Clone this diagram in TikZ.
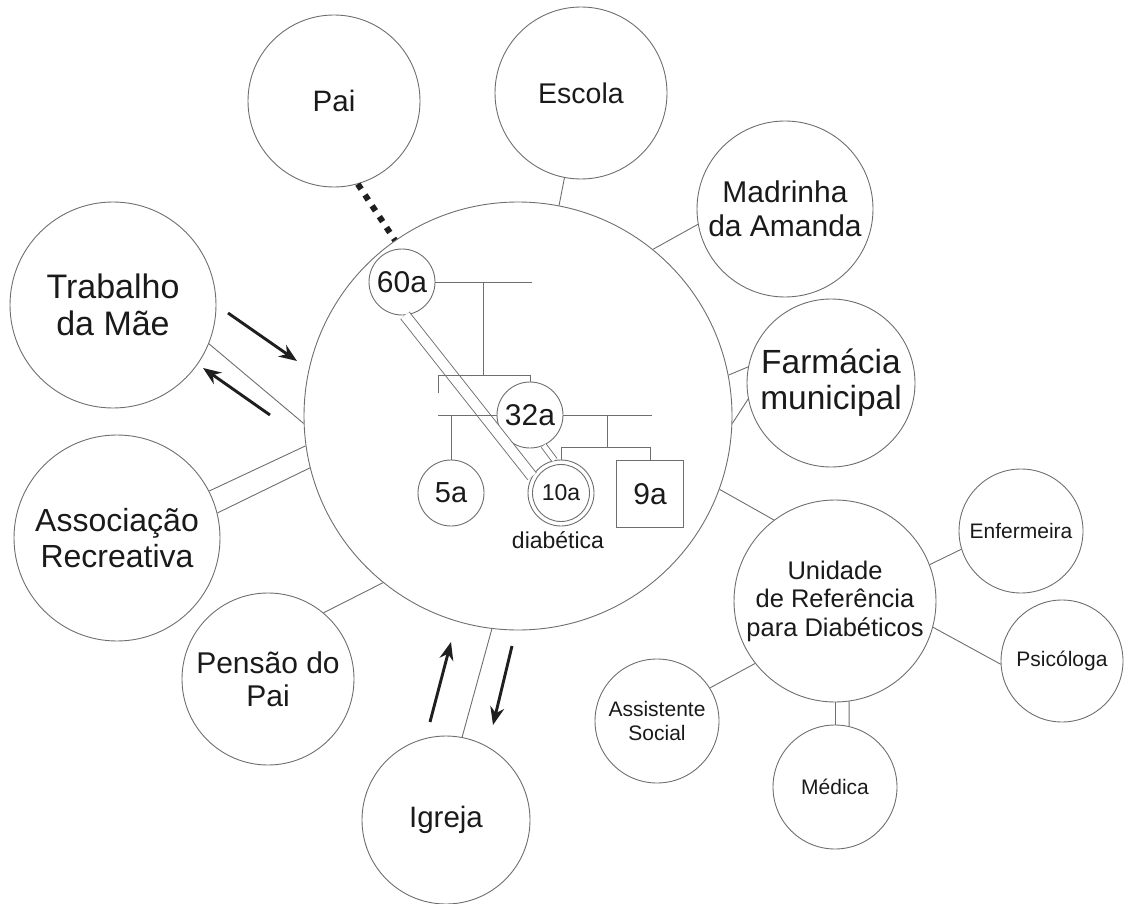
\documentclass[tikz,border=0pt]{standalone}
\usepackage{fontspec}
\setmainfont{Liberation Sans}
\usetikzlibrary{arrows.meta}
\definecolor{linec}{HTML}{6E6E6E}
\definecolor{txt}{HTML}{1A1A1A}
\newcommand{\fsz}[2]{\fontsize{#1}{#2}\selectfont}
\begin{document}
\begin{tikzpicture}[x=1pt,y=-1pt,
  bub/.style={circle, draw=linec, line width=0.9pt, inner sep=0pt, text=txt, align=center},
  conn/.style={draw=linec, line width=0.9pt},
  dbl/.style={draw=linec, line width=0.9pt, double=white},
  arr/.style={line width=2.9pt, draw=black!88, -{Stealth[length=18pt,width=14pt]}},
  gen/.style={draw=linec, line width=0.9pt},
  dots/.style={line width=6pt, draw=black!88, dash pattern=on 6pt off 7pt},
]
\useasboundingbox (0,0) rectangle (1127,904);

% main circle and outer bubbles
\node[bub, minimum size=428pt] (big) at (518,416) {};
\node[bub, minimum size=172pt, font=\fsz{29.5}{33}] (pai) at (334,101) {Pai};
\node[bub, minimum size=172pt, font=\fsz{28.5}{30}] (esc) at (581,93) {Escola};
\node[bub, minimum size=176pt, font=\fsz{30}{34}] (mad) at (785,209) {Madrinha\\da Amanda};
\node[bub, minimum size=168pt, font=\fsz{33.5}{36}] (far) at (831,383) {Farmácia\\municipal};
\node[bub, minimum size=206pt, font=\fsz{34}{37}] (tra) at (113,305) {Trabalho\\da Mãe};
\node[bub, minimum size=206pt, font=\fsz{32}{36}] (ass) at (117,538) {Associação\\Recreativa};
\node[bub, minimum size=172pt, font=\fsz{30}{33}] (pen) at (268,679) {Pensão do\\Pai};
\node[bub, minimum size=168pt, font=\fsz{29.5}{33}] (igr) at (446,820) {Igreja};
\node[bub, minimum size=202pt, font=\fsz{25.5}{28.5}] (uni) at (835,601) {Unidade\\de Referência\\para Diabéticos};
\node[bub, minimum size=124pt, font=\fsz{21}{24}] (enf) at (1021,531) {Enfermeira};
\node[bub, minimum size=122pt, font=\fsz{21}{24}] (psi) at (1062,661) {Psicóloga};
\node[bub, minimum size=124pt, font=\fsz{21}{24}] (asi) at (657,721) {Assistente\\Social};
\node[bub, minimum size=124pt, font=\fsz{21}{24}] (med) at (835,787) {Médica};

% connectors
\draw[dots] (pai.286) -- (big.125);
\draw[conn] (esc) -- (big);
\draw[conn] (mad.190) -- (big.51);
\draw[conn] (far.169) -- (big.11);
\draw[conn] (far.191) -- (big.-2);
\draw[conn] (uni.127) -- (big.-20);
\draw[conn] (uni.21) -- (enf.197);
\draw[conn] (uni.-15) -- (psi.183);
\draw[conn] (uni.218) -- (asi.32);
\draw[conn] (uni.-90) -- (med.90);
\draw[conn] (uni.-82) -- (med.77);
\draw[conn] (igr.79) -- (big.263);
\draw[conn] (pen.50) -- (big.231);
\draw[conn] (ass.27) -- (big.188);
\draw[conn] (ass.14) -- (big.194);
\draw[conn] (tra.-22) -- (big.182);

% arrows
\coordinate (a1s) at (228,313); \coordinate (a1e) at (297,361);
\coordinate (a2s) at (270,415); \coordinate (a2e) at (203,368);
\coordinate (a3s) at (430,722); \coordinate (a3e) at (451,642);
\coordinate (a4s) at (512,646); \coordinate (a4e) at (493,725);
\draw[arr] (a1s) -- (a1e);
\draw[arr] (a2s) -- (a2e);
\draw[arr] (a3s) -- (a3e);
\draw[arr] (a4s) -- (a4e);

% genogram
\node[bub, minimum size=66pt, font=\fsz{30}{33}] (g60) at (402,282) {60a};
\node[bub, minimum size=66pt, font=\fsz{30}{33}] (g32) at (530,415) {32a};
\node[bub, minimum size=66pt, font=\fsz{29}{33}] (g5) at (451,493) {5a};
\node[bub, minimum size=66pt, font=\fsz{23}{26}] (g10) at (561,493) {10a};
\draw[gen] (g10.center) circle[radius=28.5pt];
\node[draw=linec, line width=0.9pt, minimum size=67pt, inner sep=0pt, text=txt, font=\fsz{30}{33}] (g9) at (650,494) {9a};
\node[text=txt, font=\fsz{23}{26}, anchor=base, inner sep=0pt] (diab) at (558,548) {diabética};

\draw[dbl, double distance=10pt] (g60.-85) -- (g10.150);
\draw[dbl, double distance=5pt] (g32.-66) -- (g10.101);

\coordinate (m1) at (532,282);
\coordinate (m2) at (483,282);
\coordinate (m3) at (483,375);
\coordinate (s1) at (438,375);
\coordinate (s2) at (530,375);
\coordinate (s3) at (438,393);
\coordinate (h1) at (438,415);
\coordinate (h2) at (652,415);
\coordinate (v1) at (607,415);
\coordinate (v2) at (607,447);
\draw[gen] (g60.east) -- (m1);
\draw[gen] (m2) -- (m3);
\draw[gen] (s3) -- (s1) -- (s2) -- (g32.north);
\draw[gen] (h1) -- (g32.west);
\draw[gen] (g32.east) -- (h2);
\draw[gen] (g5.north |- h1) -- (g5.north);
\draw[gen] (v1) -- (v2);
\draw[gen] (g10.north |- v2) -- (g9.north |- v2);
\draw[gen] (g10.north |- v2) -- (g10.north);
\draw[gen] (g9.north |- v2) -- (g9.north);
\end{tikzpicture}
\end{document}
